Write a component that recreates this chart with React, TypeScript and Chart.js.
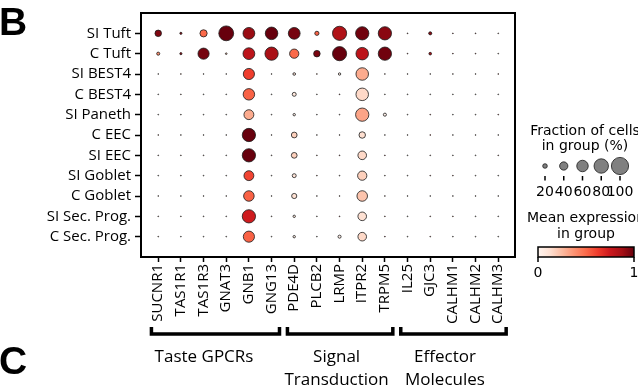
import { useEffect, useRef } from "react";
import { Chart, registerables } from "chart.js";
Chart.register(...registerables);

const genes = ["SUCNR1", "TAS1R1", "TAS1R3", "GNAT3", "GNB1", "GNG13", "PDE4D", "PLCB2", "LRMP", "ITPR2", "TRPM5", "IL25", "GJC3", "CALHM1", "CALHM2", "CALHM3"];
const cellTypes = ["SI Tuft", "C Tuft", "SI BEST4", "C BEST4", "SI Paneth", "C EEC", "SI EEC", "SI Goblet", "C Goblet", "SI Sec. Prog.", "C Sec. Prog."];

// fraction of cells in group expressing the gene (0-1); rows follow cellTypes, columns follow genes
const fracSITuft = [0.30, 0.09, 0.34, 0.83, 0.62, 0.67, 0.62, 0.18, 0.78, 0.72, 0.72, 0.03, 0.13, 0.03, 0.03, 0.015];
const fracCTuft = [0.13, 0.09, 0.58, 0.07, 0.62, 0.72, 0.46, 0.30, 0.78, 0.67, 0.72, 0.03, 0.11, 0.03, 0.03, 0.01];
const fracSIBEST4 = [0.01, 0.015, 0.01, 0.01, 0.58, 0.01, 0.11, 0.015, 0.10, 0.67, 0.02, 0.01, 0.01, 0.01, 0.01, 0.02];
const fracCBEST4 = [0.01, 0.015, 0.01, 0.01, 0.60, 0.01, 0.17, 0.01, 0.03, 0.67, 0.01, 0.01, 0.01, 0.01, 0.01, 0.01];
const fracSIPaneth = [0.01, 0.01, 0.01, 0.01, 0.50, 0.01, 0.10, 0.01, 0.015, 0.72, 0.13, 0.01, 0.03, 0.01, 0.01, 0.03];
const fracCEEC = [0.015, 0.01, 0.01, 0.01, 0.72, 0.01, 0.26, 0.01, 0.015, 0.30, 0.01, 0.01, 0.03, 0.01, 0.01, 0.01];
const fracSIEEC = [0.015, 0.015, 0.015, 0.01, 0.72, 0.015, 0.26, 0.015, 0.03, 0.42, 0.03, 0.01, 0.015, 0.01, 0.01, 0.025];
const fracSIGoblet = [0.01, 0.015, 0.01, 0.01, 0.50, 0.01, 0.17, 0.015, 0.015, 0.46, 0.015, 0.01, 0.02, 0.02, 0.01, 0.01];
const fracCGoblet = [0.015, 0.01, 0.01, 0.01, 0.54, 0.01, 0.23, 0.01, 0.015, 0.54, 0.015, 0.01, 0.01, 0.01, 0.01, 0.01];
const fracSISecProg = [0.015, 0.015, 0.015, 0.01, 0.72, 0.015, 0.10, 0.01, 0.03, 0.42, 0.025, 0.01, 0.025, 0.025, 0.01, 0.01];
const fracCSecProg = [0.015, 0.01, 0.01, 0.01, 0.58, 0.01, 0.10, 0.01, 0.13, 0.42, 0.04, 0.01, 0.025, 0.01, 0.01, 0.01];

// mean expression in group, scaled 0-1
const exprSITuft = [0.95, 0.9, 0.5, 1.0, 0.9, 1.0, 0.97, 0.52, 0.84, 0.98, 0.93, 0.9, 0.92, 0.8, 0.8, 0.3];
const exprCTuft = [0.38, 0.9, 0.97, 0.2, 0.8, 0.86, 0.5, 0.96, 1.0, 0.8, 0.98, 0.8, 0.85, 0.8, 0.7, 0.2];
const exprSIBEST4 = [0.1, 0.3, 0.1, 0.1, 0.62, 0.1, 0.1, 0.3, 0.05, 0.3, 0.2, 0.1, 0.1, 0.2, 0.1, 0.4];
const exprCBEST4 = [0.1, 0.3, 0.1, 0.1, 0.52, 0.1, 0.08, 0.1, 0.8, 0.15, 0.1, 0.1, 0.1, 0.1, 0.1, 0.1];
const exprSIPaneth = [0.1, 0.2, 0.1, 0.1, 0.3, 0.1, 0.05, 0.1, 0.2, 0.32, 0.03, 0.1, 0.6, 0.1, 0.1, 0.6];
const exprCEEC = [0.3, 0.1, 0.1, 0.1, 1.0, 0.1, 0.18, 0.1, 0.2, 0.13, 0.1, 0.1, 0.6, 0.1, 0.1, 0.1];
const exprSIEEC = [0.3, 0.3, 0.3, 0.1, 1.0, 0.3, 0.18, 0.3, 0.7, 0.15, 0.7, 0.1, 0.3, 0.1, 0.1, 0.5];
const exprSIGoblet = [0.1, 0.3, 0.1, 0.1, 0.6, 0.1, 0.1, 0.3, 0.2, 0.18, 0.2, 0.1, 0.5, 0.5, 0.1, 0.1];
const exprCGoblet = [0.2, 0.1, 0.1, 0.1, 0.52, 0.1, 0.12, 0.1, 0.2, 0.22, 0.2, 0.1, 0.1, 0.1, 0.1, 0.1];
const exprSISecProg = [0.3, 0.3, 0.3, 0.1, 0.74, 0.3, 0.08, 0.1, 0.7, 0.12, 0.5, 0.1, 0.5, 0.5, 0.1, 0.1];
const exprCSecProg = [0.3, 0.1, 0.1, 0.1, 0.52, 0.1, 0.05, 0.1, 0.03, 0.15, 0.8, 0.1, 0.5, 0.1, 0.1, 0.1];

const fractions = [fracSITuft, fracCTuft, fracSIBEST4, fracCBEST4, fracSIPaneth, fracCEEC, fracSIEEC, fracSIGoblet, fracCGoblet, fracSISecProg, fracCSecProg];
const expressions = [exprSITuft, exprCTuft, exprSIBEST4, exprCBEST4, exprSIPaneth, exprCEEC, exprSIEEC, exprSIGoblet, exprCGoblet, exprSISecProg, exprCSecProg];

// gene groups: [first gene index, last gene index]
const groupNames = [["Taste GPCRs"], ["Signal", "Transduction"], ["Effector", "Molecules"]];
const groupRanges = [[0, 5], [6, 10], [11, 15]];
const groupLabelCenters = [2.02, 7.87, 12.65];

const sizeLegendValues = [20, 40, 60, 80, 100];
const colorbarTicks = ["0", "1"];

const REDS = ["#fff5f0", "#fee0d2", "#fcbba1", "#fc9272", "#fb6a4a", "#ef3b2c", "#cb181d", "#a50f15", "#67000d"];
function hexToRgb(h: string) {
  return [parseInt(h.slice(1, 3), 16), parseInt(h.slice(3, 5), 16), parseInt(h.slice(5, 7), 16)];
}
function reds(v: number) {
  const t = Math.max(0, Math.min(1, v)) * (REDS.length - 1);
  const i = Math.min(REDS.length - 2, Math.floor(t));
  const f = t - i;
  const a = hexToRgb(REDS[i]);
  const b = hexToRgb(REDS[i + 1]);
  const c = a.map((x, k) => Math.round(x + (b[k] - x) * f));
  return `rgb(${c[0]},${c[1]},${c[2]})`;
}
const R_MAX = 9;
function dotRadius(f: number) {
  return Math.max(R_MAX * Math.pow(f, 0.75) - 0.4, 0.4);
}

const overlayPlugin = {
  id: "overlay",
  afterDraw(chart: any) {
    const { ctx, chartArea } = chart;
    const xs = chart.scales.x;
    ctx.save();
    // frame
    ctx.strokeStyle = "#000";
    ctx.lineWidth = 2;
    ctx.strokeRect(chartArea.left, chartArea.top, chartArea.right - chartArea.left, chartArea.bottom - chartArea.top);

    // panel letters
    ctx.fillStyle = "#000";
    ctx.font = "bold 39px 'Liberation Sans'";
    ctx.textAlign = "left";
    ctx.textBaseline = "alphabetic";
    ctx.fillText("B", -1, 35);
    ctx.fillText("C", -1, 374);

    // brackets
    ctx.lineWidth = 3.5;
    ctx.lineJoin = "miter";
    ctx.lineCap = "butt";
    groupRanges.forEach(([s, e]) => {
      const xl = xs.getPixelForValue(s - 0.3);
      const xr = xs.getPixelForValue(e + 0.35);
      ctx.beginPath();
      ctx.moveTo(xl, 327);
      ctx.lineTo(xl, 334);
      ctx.lineTo(xr, 334);
      ctx.lineTo(xr, 327);
      ctx.stroke();
    });
    ctx.font = "17px 'Open Sans'";
    ctx.textAlign = "center";
    groupNames.forEach((lines, g) => {
      const cx = xs.getPixelForValue(groupLabelCenters[g]);
      lines.forEach((ln, k) => ctx.fillText(ln, cx, 362 + k * 23));
    });

    // size legend
    const lf = "14px 'DejaVu Sans'";
    ctx.font = lf;
    ctx.textBaseline = "middle";
    ctx.fillText("Fraction of cells", 585, 131);
    ctx.fillText("in group (%)", 585, 146.5);
    sizeLegendValues.forEach((v, k) => {
      const cx = 545 + k * 18.75;
      ctx.beginPath();
      ctx.arc(cx, 166, dotRadius(v / 100), 0, Math.PI * 2);
      ctx.fillStyle = "#808080";
      ctx.fill();
      ctx.lineWidth = 0.8;
      ctx.strokeStyle = "#1a1a1a";
      ctx.stroke();
      ctx.lineWidth = 1.5;
      ctx.strokeStyle = "#000";
      ctx.beginPath();
      ctx.moveTo(cx, 176);
      ctx.lineTo(cx, 180.5);
      ctx.stroke();
      ctx.fillStyle = "#000";
      ctx.fillText(String(v), cx, 192);
    });

    // color legend
    ctx.fillText("Mean expression", 586, 218);
    ctx.fillText("in group", 586, 234);
    const x0 = 538, x1 = 634, y0 = 247, y1 = 257;
    const grad = ctx.createLinearGradient(x0, 0, x1, 0);
    REDS.forEach((c, k) => grad.addColorStop(k / (REDS.length - 1), c));
    ctx.fillStyle = grad;
    ctx.fillRect(x0, y0, x1 - x0, y1 - y0);
    ctx.lineWidth = 1.5;
    ctx.strokeStyle = "#000";
    ctx.strokeRect(x0, y0, x1 - x0, y1 - y0);
    ctx.fillStyle = "#000";
    [x0, x1].forEach((tx, k) => {
      ctx.beginPath();
      ctx.moveTo(tx, y1);
      ctx.lineTo(tx, y1 + 5);
      ctx.stroke();
      ctx.fillText(colorbarTicks[k], tx, 273);
    });
    ctx.restore();
  },
};

export default function App() {
  const ref = useRef<HTMLCanvasElement | null>(null);
  useEffect(() => {
    document.body.style.margin = "0";
    const points: any[] = [];
    fractions.forEach((row, i) =>
      row.forEach((f, j) => points.push({ x: j, y: i, f, e: expressions[i][j] }))
    );
    const chart = new Chart(ref.current as HTMLCanvasElement, {
      type: "scatter",
      data: {
        datasets: [
          {
            data: points,
            pointRadius: (c: any) => dotRadius(c.raw ? c.raw.f : 0),
            pointHoverRadius: (c: any) => dotRadius(c.raw ? c.raw.f : 0),
            backgroundColor: (c: any) => reds(c.raw ? c.raw.e : 0),
            borderColor: "#1a1a1a",
            borderWidth: 0.8,
          } as any,
        ],
      },
      options: {
        animation: false,
        responsive: false,
        events: [],
        layout: { padding: { left: 0, right: 123, top: 8, bottom: 0 } },
        plugins: { legend: { display: false }, tooltip: { enabled: false } },
        scales: {
          x: {
            type: "linear",
            position: "bottom",
            min: -0.76,
            max: 15.74,
            afterBuildTicks: (a: any) => {
              a.ticks = genes.map((_, i) => ({ value: i }));
            },
            afterFit: (s: any) => {
              s.height = 134;
            },
            ticks: {
              autoSkip: false,
              maxRotation: 90,
              minRotation: 90,
              padding: 2,
              color: "#000",
              font: { family: "'Open Sans'", size: 15 },
              callback: (v: any) => genes[v as number] ?? "",
            },
            grid: { drawOnChartArea: false, drawTicks: true, tickLength: 5, tickColor: "#000", tickWidth: 1.5 } as any,
            border: { display: false },
          },
          y: {
            type: "linear",
            reverse: true,
            min: -1,
            max: 11,
            afterBuildTicks: (a: any) => {
              a.ticks = cellTypes.map((_, i) => ({ value: i }));
            },
            afterFit: (s: any) => {
              s.width = 141;
            },
            ticks: {
              autoSkip: false,
              padding: 4,
              color: "#000",
              font: { family: "'Open Sans'", size: 15 },
              callback: (v: any) => cellTypes[v as number] ?? "",
            },
            grid: { drawOnChartArea: false, drawTicks: true, tickLength: 6, tickColor: "#000", tickWidth: 1.5 } as any,
            border: { display: false },
          },
        },
      },
      plugins: [overlayPlugin],
    });
    return () => chart.destroy();
  }, []);
  return <canvas ref={ref} width={638} height={391} style={{ display: "block" }} />;
}
